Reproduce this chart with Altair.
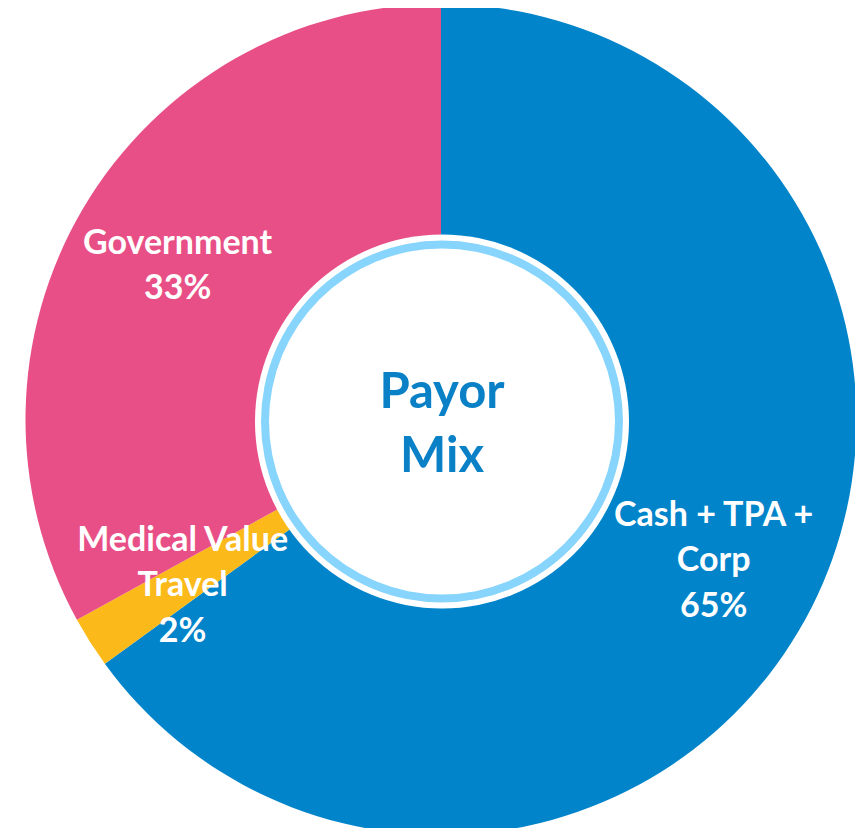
import altair as alt
import pandas as pd

# ---- data ----
categories = ["Cash + TPA + Corp", "Medical Value Travel", "Government"]
shares = [65, 2, 33]
label_texts = ["Cash + TPA +\nCorp\n65%", "Medical Value\nTravel\n2%", "Government\n33%"]
slice_order = [1, 2, 3]
colors = ["#0284CA", "#FBB91A", "#E84F86"]
center_title = "Payor\nMix"

df = pd.DataFrame({
    "category": categories,
    "share": shares,
    "label": label_texts,
    "order": slice_order,
})
df["nlines"] = df["label"].str.count("\n") + 1
one = pd.DataFrame({"t": [center_title]})

CX, CY = 433, 411.5
R_OUT = 415.5
FONT = "Lato"
LH = 45.5
theta_scale = alt.Scale(domain=[0, sum(shares)])

slices = alt.Chart(df).mark_arc(outerRadius=R_OUT, innerRadius=0, stroke=None).encode(
    theta=alt.Theta("share:Q", stack=True, scale=theta_scale),
    order=alt.Order("order:Q", sort="ascending"),
    color=alt.Color("category:N", scale=alt.Scale(domain=categories, range=colors), legend=None),
    x=alt.value(CX),
    y=alt.value(CY),
)

label_base = alt.Chart(df).transform_window(
    cum="sum(share)", sort=[alt.SortField("order", order="ascending")]
).transform_calculate(mid="datum.cum - datum.share / 2")


def label_layer(n):
    return label_base.transform_filter(f"datum.nlines == {n}").mark_text(
        radius=306, font=FONT, fontWeight="bold", fontSize=34, lineHeight=LH,
        color="white", align="center", baseline="middle", lineBreak="\n",
        dy=-(n - 1) * LH / 2 + 3,
    ).encode(
        theta=alt.Theta("mid:Q", stack=None, scale=theta_scale),
        text="label:N",
        x=alt.value(CX),
        y=alt.value(CY),
    )


disc = alt.Chart(one).mark_arc(
    innerRadius=0, outerRadius=187, theta=0, theta2=6.2832, color="white"
).encode(x=alt.value(CX + 1), y=alt.value(CY + 2))

ring = alt.Chart(one).mark_arc(
    innerRadius=173, outerRadius=181, theta=0, theta2=6.2832, color="#87D4FC"
).encode(x=alt.value(CX + 1), y=alt.value(CY + 2))

title = alt.Chart(one).mark_text(
    font=FONT, fontWeight="bold", fontSize=49, lineHeight=64,
    color="#0A80C6", align="center", baseline="middle", lineBreak="\n", dy=-30,
).encode(x=alt.value(CX + 1), y=alt.value(CY + 3), text="t:N")

chart = alt.layer(slices, label_layer(2), label_layer(3), disc, ring, title).properties(
    width=847, height=820, padding=0,
    autosize=alt.AutoSizeParams(type="none"),
).configure_view(stroke=None)

chart.save("out.html", embed_options={"renderer": "svg", "actions": False})
